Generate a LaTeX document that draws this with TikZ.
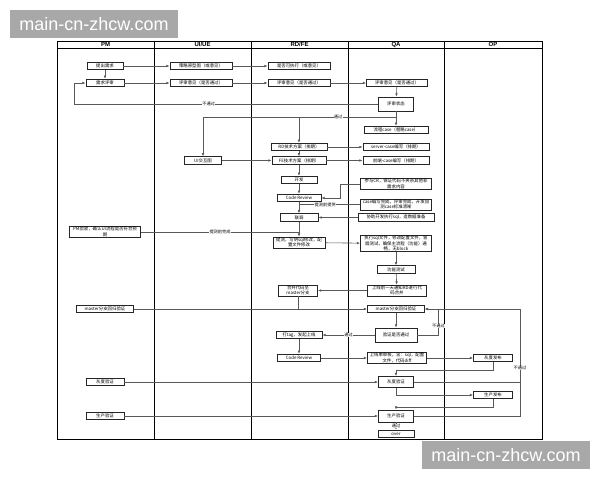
\documentclass[tikz,border=0pt]{standalone}
\usepackage{fontspec}
\setmainfont{Noto Sans CJK SC}
\newfontfamily\hdfont{Liberation Sans}
\usetikzlibrary{arrows.meta}

\begin{document}
\begin{tikzpicture}[x=1pt,y=-1pt,
    box/.style={draw=black!85,line width=0.8pt,fill=white,inner sep=0.6pt,
      minimum height=7.5pt,font=\fontsize{4.4}{5.6}\selectfont},
    tbox/.style={box,text width=#1,align=center},
    flow/.style={draw=black!65,line width=0.6pt},
    arr/.style={flow,-{Latex[length=3.2pt,width=2.6pt]}},
    lab/.style={fill=white,inner sep=0.4pt,font=\fontsize{4.2}{5}\selectfont},
    lane/.style={line width=0.8pt},
    head/.style={font=\hdfont\bfseries\fontsize{6}{7}\selectfont},
    wm/.style={fill=black!34,text=white,minimum width=168pt,minimum height=28pt,
      inner sep=0pt,font=\hdfont\fontsize{18}{20}\selectfont}]
    \useasboundingbox (0,0) rectangle (600,480);
    \fill[white] (0,0) rectangle (600,480);
    % lanes
    \draw[lane] (57,41) rectangle (542,439);
    \draw[lane] (57,48) -- (542,48);
    \foreach \x in {154,251,348,444}
        \draw[lane] (\x,41) -- (\x,439);
    \node[head] (hPM) at (105.5,44.5) {PM};
    \node[head] (hUI) at (202.5,44.5) {UI/UE};
    \node[head] (hRD) at (299.5,44.5) {RD/FE};
    \node[head] (hQA) at (396,44.5) {QA};
    \node[head] (hOP) at (493,44.5) {OP};
    % PM
    \node[box,minimum width=36pt] (pmReq) at (105,66) {提出需求};
    \node[box,minimum width=38pt] (pmRev) at (105,83) {需求评审};
    \node[tbox=70pt] (pmAcc) at (105,232) {PM验收，确认UI流程是否符合预\\期};
    \node[box,minimum width=57pt] (pmMaster) at (105,309) {master分支回归验证};
    \node[box,minimum width=38pt] (pmGray) at (105,382) {灰度验证};
    \node[box,minimum width=38pt] (pmProd) at (105,416) {生产验证};
    % UI/UE
    \node[box,minimum width=62pt] (uiProto) at (201,66) {策略原型图（或意见）};
    \node[box,minimum width=62pt] (uiRev) at (201,83) {评审意见（是否通过）};
    \node[box,minimum width=37pt] (uiInter) at (203,160.5) {UI交互图};
    % RD/FE
    \node[box,minimum width=62pt] (rdExec) at (299,66) {是否可执行（或意见）};
    \node[box,minimum width=62pt] (rdRev) at (299,83) {评审意见（是否通过）};
    \node[box,minimum width=56pt] (rdPlan) at (299,147) {RD技术方案（排期）};
    \node[box,minimum width=54pt] (fePlan) at (299,160.5) {FE技术方案（排期）};
    \node[box,minimum width=36pt] (rdDev) at (299,180) {开发};
    \node[box,minimum width=44pt] (rdCR) at (299,198) {Code Review};
    \node[box,minimum width=38pt] (rdJoint) at (299,217.5) {联调};
    \node[tbox=51pt] (rdTest) at (299,242.5) {提测，写明sql修改，配\\置文件修改};
    \node[tbox=38pt] (rdMerge) at (298,290.5) {合并代码至\\master分支};
    \node[box,minimum width=46pt] (rdTag) at (299,335) {打tag，发起上线};
    \node[box,minimum width=43pt] (rdCR2) at (299,358) {Code Review};
    % QA
    \node[box,minimum width=61pt] (qaRev) at (397,83) {评审意见（是否通过）};
    \node[box,minimum width=35pt,minimum height=14pt] (qaState) at (396,104) {评审状态};
    \node[box,minimum width=64pt] (qaCase) at (396,130) {流程case（粗略case）};
    \node[box,minimum width=66pt] (qaServer) at (396,147) {server-case编写（排期）};
    \node[box,minimum width=66pt] (qaFront) at (396,160.5) {前端-case编写（排期）};
    \node[tbox=70pt] (qaCR) at (396,184) {参与CR，保证代码不夹杂其他非\\需求内容};
    \node[tbox=70pt] (qaCaseDone) at (396,204.5) {case编写完成，评审完成，开发自\\测case标准清晰};
    \node[box,minimum width=76pt] (qaSql) at (396,217.5) {协助开发执行sql，造数据准备};
    \node[tbox=70pt] (qaSmoke) at (396,243.5) {执行sql文件，修改配置文件，冒\\烟测试，确保主流程（功能）通\\畅，无block};
    \node[box,minimum width=38pt] (qaFunc) at (396,269.5) {功能测试};
    \node[tbox=58pt] (qaNotify) at (397,290.5) {上线前一天通知RD进行代\\码合并};
    \node[box,minimum width=57pt] (qaMaster) at (396,309) {master分支回归验证};
    \node[box,minimum width=42pt,minimum height=14pt] (qaCheck) at (396,335) {验证是否通过};
    \node[tbox=58pt] (qaOnline) at (397,358) {上线单审核，含：sql，配置\\文件，代码diff};
    \node[box,minimum width=35pt,minimum height=11pt] (qaGray) at (396,382) {灰度验证};
    \node[box,minimum width=35pt,minimum height=12pt] (qaProd) at (396,416) {生产验证};
    \node[box,minimum width=36pt] (qaOver) at (396,434) {over};
    % OP
    \node[box,minimum width=39pt] (opGray) at (493,358) {灰度发布};
    \node[box,minimum width=39pt] (opProd) at (493,395) {生产发布};
    % requirement review
    \draw[arr] (pmReq) -- (pmRev);
    \draw[arr] (pmReq) -- (uiProto);
    \draw[arr] (uiProto) -- (rdExec);
    \draw[arr] (pmRev) -- (uiRev);
    \draw[arr] (uiRev) -- (rdRev);
    \draw[arr] (rdRev) -- (qaRev);
    \draw[arr] (qaRev) -- (qaState);
    \coordinate (back) at (74,104);
    \draw[arr] (qaState.west) -- node[lab,pos=0.557] {不通过} (qaState.west -| back)
        -- (back |- pmRev) -- (pmRev.west);
    \coordinate (pass) at (396,117);
    \draw[arr] (qaState) -- (qaCase);
    \draw[flow] (pass) -- node[lab,pos=0.3] {通过} (pass -| uiInter);
    \draw[arr] (pass -| uiInter) -- (uiInter);
    \draw[arr] (pass -| rdPlan) -- (rdPlan);
    % plans and development
    \draw[arr] (rdPlan) -- (fePlan);
    \draw[arr] (rdPlan) -- (qaServer);
    \draw[arr] (fePlan) -- (qaFront);
    \draw[arr] (uiInter) -- (fePlan);
    \draw[arr] (fePlan) -- (rdDev);
    \draw[arr] (rdDev) -- (rdCR);
    \draw[arr] (rdCR) -- (rdJoint);
    \draw[arr] (rdJoint) -- (rdTest);
    \draw[arr] (qaCR.west) -- ++(-20,0) |- (rdCR.east);
    \draw[flow] (qaCaseDone.west) -- node[lab,pos=0.57] {提测前提供} (qaCaseDone.west -| rdCR);
    \draw[arr] (qaSql) -- (rdJoint);
    \draw[flow] (pmAcc.east) -- node[lab,pos=0.5] {提测前完成} (pmAcc.east -| rdJoint);
    % testing
    \draw[arr] (rdTest) -- (qaSmoke);
    \draw[arr] (qaSmoke) -- (qaFunc);
    \draw[arr] (qaFunc) -- (qaNotify);
    \draw[arr] (qaNotify) -- (rdMerge);
    \draw[flow] (rdMerge.south) -- (rdMerge |- qaMaster);
    \draw[arr] (pmMaster) -- (qaMaster);
    \draw[arr] (qaMaster) -- (qaCheck);
    \draw[arr] (qaCheck.east) -- ++(21,0) |- node[lab,pos=0.17] {不通过} (qaMaster.east);
    \draw[arr] (qaCheck) -- node[lab] {通过} (rdTag);
    % release
    \draw[arr] (rdTag) -- (rdCR2);
    \draw[arr] (rdCR2) -- (qaOnline);
    \draw[arr] (qaOnline) -- (opGray);
    \draw[arr] (opGray.south) -- ++(0,8) -| (qaGray.north);
    \draw[arr] (pmGray) -- (qaGray);
    \draw[arr] (qaGray.south) |- (opProd.west);
    \draw[arr] (opProd.south) -- ++(0,8) -| (qaProd.north);
    \draw[arr] (pmProd) -- (qaProd);
    \coordinate (fail) at (520,309);
    \draw[flow] (qaGray.east) -- (qaGray.east -| fail);
    \draw[arr] (qaProd.east) -| node[lab,pos=0.725] {不通过} (fail) -- (qaMaster.east);
    \draw[arr] (qaProd) -- node[lab] {通过} (qaOver);
    % watermark
    \node[wm] (wmTop) at (94,24) {main-cn-zhcw.com};
    \node[wm] (wmBot) at (506,455) {main-cn-zhcw.com};
\end{tikzpicture}
\end{document}
